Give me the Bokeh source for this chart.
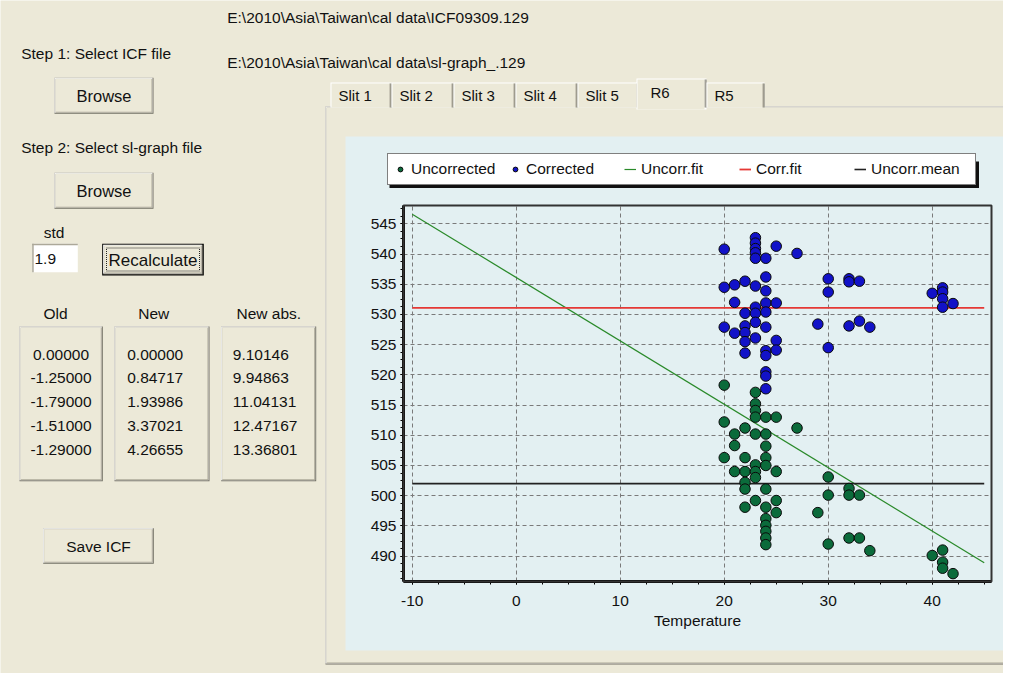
import numpy as np
from bokeh.plotting import figure
from bokeh.models import (Range1d, FixedTicker, Legend, LegendItem, Label,
                          BoxAnnotation, ColumnDataSource, LinearAxis, Grid)
from bokeh.embed import file_html
from bokeh.resources import INLINE

# ---------------- data ----------------
unc_temp = [20, 20, 20,
            21, 21, 21,
            22, 22, 22, 22, 22, 22,
            23, 23, 23, 23, 23, 23, 23, 23, 23,
            24, 24, 24, 24, 24, 24, 24, 24, 24, 24, 24, 24,
            25, 25, 25, 25,
            27, 29,
            30, 30, 30,
            32, 32, 32,
            33, 33, 34, 40,
            41, 41, 41, 42]
unc_r6 = [518.3, 512.2, 506.3,
          510.2, 508.3, 504.0,
          511.2, 506.3, 504.0, 502.2, 501.1, 498.1,
          517.1, 515.2, 514.1, 513.0, 510.2, 505.1, 504.0, 503.0, 499.2,
          513.0, 510.2, 508.2, 506.3, 505.0, 501.1, 498.1, 496.2, 495.1, 494.1, 493.0, 491.9,
          513.0, 504.0, 499.2, 497.2,
          511.2, 497.2,
          503.1, 500.1, 492.0,
          501.2, 500.1, 493.0,
          500.1, 493.0, 490.9, 490.1,
          491.0, 489.0, 488.0, 487.1]

cor_temp = [20, 20, 20,
            21, 21, 21,
            22, 22, 22, 22, 22, 22,
            23, 23, 23, 23, 23, 23, 23, 23, 23, 23,
            24, 24, 24, 24, 24, 24, 24, 24, 24, 24, 24,
            25, 25, 25, 25,
            27, 29,
            30, 30, 30,
            32, 32, 32,
            33, 33, 34, 40,
            41, 41, 41, 41, 42]
cor_r6 = [540.8, 534.5, 527.9,
          534.9, 532.0, 526.9,
          535.5, 530.2, 528.1, 527.0, 525.5, 523.6,
          542.7, 541.8, 540.9, 540.2, 539.3, 534.7, 531.2, 530.2, 528.7, 526.1,
          539.3, 536.2, 533.9, 531.9, 530.4, 527.9, 524.0, 523.2, 520.5, 519.8, 517.7,
          541.3, 531.9, 525.7, 524.1,
          540.1, 528.4,
          535.9, 533.7, 524.5,
          535.9, 535.4, 528.1,
          535.5, 528.9, 527.9, 533.5,
          534.4, 533.7, 532.6, 531.2, 531.8]

fit_x = [-10, 45]
uncorr_fit_y = [546.6, 488.9]
corr_fit_y = [531.1, 531.1]
uncorr_mean_y = [502.0, 502.0]

x_ticks = [-10, 0, 10, 20, 30, 40]
y_ticks = [490, 495, 500, 505, 510, 515, 520, 525, 530, 535, 540, 545]

tab_names = ["Slit 1", "Slit 2", "Slit 3", "Slit 4", "Slit 5", "R6", "R5"]
old_vals = [0.0, -1.25, -1.79, -1.51, -1.29]
new_vals = [0.0, 0.84717, 1.93986, 3.37021, 4.26655]
new_abs_vals = [9.10146, 9.94863, 11.04131, 12.47167, 13.36801]
icf_path = r"E:\2010\Asia\Taiwan\cal data\ICF09309.129"
sl_path = r"E:\2010\Asia\Taiwan\cal data\sl-graph_.129"
std_value = "1.9"

# ---------------- layout / styles ----------------
W, H = 1003, 673
PX_L, PX_R, PX_T, PX_B = 403, 991, 205, 581       # chart area in page pixels
X_LO, X_HI = -10.84, 45.7
Y_LO, Y_HI = 485.8, 548.03
kx = (X_HI - X_LO) / (PX_R - PX_L)
ky = (Y_HI - Y_LO) / (PX_B - PX_T)

FONT = "Liberation Sans"
FS = "15.5px"
BEIGE = "#ECE9D8"
LIGHT = "#E3F0F2"
DARK = "#716F64"
MID = "#ACA899"
GREEN = "#0B6B3B"
BLUE = "#1212C8"

p = figure(width=W, height=H, output_backend="svg", toolbar_location=None,
           x_range=Range1d(X_LO - PX_L * kx, X_HI + (W - PX_R) * kx),
           y_range=Range1d(Y_LO - (H - PX_B) * ky, Y_HI + PX_T * ky),
           x_axis_location=None, y_axis_location=None, min_border=0,
           background_fill_color=BEIGE, border_fill_color=BEIGE,
           outline_line_color=None)
p.xgrid.visible = False
p.ygrid.visible = False
# page-pixel ranges for the window decoration
p.extra_x_ranges = {"px": Range1d(0, W)}
p.extra_y_ranges = {"py": Range1d(H, 0)}


def box(l, t, r, b, fill=None, line=None, lw=1, dash="solid"):
    p.add_layout(BoxAnnotation(left=l, right=r, top=t, bottom=b,
                               x_range_name="px", y_range_name="py",
                               fill_color=fill, fill_alpha=1 if fill else 0,
                               line_color=line, line_alpha=1 if line else 0,
                               line_width=lw, line_dash=dash, level="image"))


def raised(l, t, r, b, fill=BEIGE):
    box(l, t, r, b, DARK)
    box(l, t, r - 1, b - 1, "#FFFFFF")
    box(l + 1, t + 1, r - 1, b - 1, MID)
    box(l + 1, t + 1, r - 2, b - 2, fill)


def txt(x, y, s, align="left", size=FS):
    p.add_layout(Label(x=x, y=y, text=s, x_range_name="px", y_range_name="py",
                       text_font=FONT, text_font_size=size, text_align=align,
                       text_baseline="middle", text_color="#111111"))


# tab control
raised(325, 106, 1016, 664)
box(345, 136, 1006, 650, LIGHT)
# legend shadow
box(389, 161, 978.5, 187.5, "#111111")

tab_edges = [330, 391, 453, 515, 577, 638, 706, 764]
for i, name in enumerate(tab_names):
    l, r = tab_edges[i], tab_edges[i + 1]
    if name == "R6":
        box(l - 2, 78, r, 109, "#FFFFFF")
        box(l - 1, 79, r - 2, 109, BEIGE)
        box(r - 2, 79, r - 1, 107, MID)
        box(r - 1, 79, r, 107, DARK)
        txt(l + 12, 92, name, size="15px")
    else:
        box(l, 82, r, 107, "#FFFFFF")
        box(l + 1, 83, r, 107, BEIGE)
        box(r - 2, 83, r - 1, 107, MID)
        box(r - 1, 83, r, 107, DARK)
        txt(l + 8, 95, name, size="15px")

# left panel
txt(226.7, 17, icf_path)
txt(226.7, 62, sl_path)
txt(20.7, 53.3, "Step 1: Select ICF file")
raised(54, 77.3, 153, 113.3)
txt(103.5, 95.5, "Browse", align="center", size="16.5px")
txt(20.7, 146.7, "Step 2: Select sl-graph file")
raised(54, 172.3, 153, 208.3)
txt(103.5, 190.5, "Browse", align="center", size="16.5px")
txt(43.3, 231.7, "std")
box(31.7, 243.3, 77.3, 271.7, "#FFFFFF")
box(31.7, 243.3, 77.3, 244.8, MID)
box(31.7, 243.3, 33.2, 271.7, MID)
txt(34, 258.3, std_value)
box(101.7, 243.3, 203.3, 275, "#000000")
raised(102.7, 244.3, 202.3, 274)
box(106, 247.5, 199, 270.5, None, "#222222", 1, "1 1")
txt(152.5, 259.5, "Recalculate", align="center", size="17px")

txt(55, 313.3, "Old", align="center")
txt(153.3, 313.3, "New", align="center")
txt(268.3, 313.3, "New abs.", align="center")
raised(19, 326, 102.3, 480.7)
raised(114, 326, 209, 480.7)
raised(220.7, 326, 315.7, 480.7)
row_y = [354.3, 377.7, 401.7, 425.0, 449.3]
for i, yy in enumerate(row_y):
    txt(60.5, yy, f"{old_vals[i]:.5f}", align="center")
    txt(126.7, yy, f"{new_vals[i]:.5f}")
    txt(232.3, yy, f"{new_abs_vals[i]:.5f}")

raised(42.7, 527.7, 153.3, 563.3)
txt(98, 545.5, "Save ICF", align="center")

# ---------------- chart ----------------
x_minor = list(np.arange(-10, 45.01, 2.5))
y_minor = list(np.arange(486.25, 548.0, 1.25))
xt = FixedTicker(ticks=x_ticks, minor_ticks=x_minor)
yt = FixedTicker(ticks=y_ticks, minor_ticks=y_minor)

# chart frame fill
p.add_layout(BoxAnnotation(left=X_LO, right=X_HI, bottom=Y_LO, top=Y_HI,
                           fill_color=LIGHT, fill_alpha=1, line_alpha=0,
                           level="image"))

grid_ok = True
for dim, tk, b, cb in ((0, xt, (X_LO, X_HI), (Y_LO, Y_HI)),
                       (1, yt, (Y_LO, Y_HI), (X_LO, X_HI))):
    g = Grid(dimension=dim, ticker=tk, bounds=b, grid_line_color="#7a7a7a",
             grid_line_dash="4 3", grid_line_width=1)
    try:
        g.cross_bounds = cb
        p.add_layout(g)
    except Exception:
        grid_ok = False
if not grid_ok:
    p.segment(x0=x_ticks, x1=x_ticks, y0=[Y_LO] * len(x_ticks),
              y1=[Y_HI] * len(x_ticks), line_color="#7a7a7a", line_dash="4 3")
    p.segment(x0=[X_LO] * len(y_ticks), x1=[X_HI] * len(y_ticks), y0=y_ticks,
              y1=y_ticks, line_color="#7a7a7a", line_dash="4 3")

r_fit = p.line(fit_x, uncorr_fit_y, line_color="#2A8A2A", line_width=1.2)
r_cfit = p.line(fit_x, corr_fit_y, line_color="#E53935", line_width=1.8)
r_mean = p.line(fit_x, uncorr_mean_y, line_color="#222222", line_width=1.6)

src_unc = ColumnDataSource(dict(x=unc_temp, y=unc_r6))
src_cor = ColumnDataSource(dict(x=cor_temp, y=cor_r6))
r_unc = p.scatter("x", "y", source=src_unc, size=10.5, fill_color=GREEN,
                  line_color="#0a0a0a", line_width=1)
r_cor = p.scatter("x", "y", source=src_cor, size=10.5, fill_color=BLUE,
                  line_color="#0a0a0a", line_width=1)

# frame border (top/right visible; left/bottom covered by axes)
p.add_layout(BoxAnnotation(left=X_LO, right=X_HI, bottom=Y_LO, top=Y_HI,
                           fill_alpha=0, line_color="#333333", line_width=2,
                           line_alpha=1, level="guide"))

xaxis = LinearAxis(ticker=xt, fixed_location=Y_LO, bounds=(X_LO, X_HI),
                   axis_label="Temperature")
yaxis = LinearAxis(ticker=yt, fixed_location=X_LO, bounds=(Y_LO, Y_HI))
for ax in (xaxis, yaxis):
    ax.axis_line_width = 3
    ax.axis_line_color = "black"
    ax.major_tick_in = 0
    ax.major_tick_out = 3
    ax.minor_tick_in = 0
    ax.minor_tick_out = 3
    ax.major_tick_line_color = "black"
    ax.minor_tick_line_color = "black"
    ax.major_label_text_font = FONT
    ax.major_label_text_font_size = FS
    ax.major_label_text_color = "#111111"
xaxis.major_label_overrides = {t: str(t) for t in x_ticks}
yaxis.major_label_standoff = 4
xaxis.major_label_standoff = 11
xaxis.axis_label_text_font = FONT
xaxis.axis_label_text_font_size = FS
xaxis.axis_label_text_font_style = "normal"
xaxis.axis_label_text_color = "#111111"
xaxis.axis_label_standoff = 3
p.add_layout(xaxis, "below")
p.add_layout(yaxis, "left")

legend = Legend(items=[LegendItem(label="Uncorrected", renderers=[r_unc]),
                       LegendItem(label="Corrected", renderers=[r_cor]),
                       LegendItem(label="Uncorr.fit", renderers=[r_fit]),
                       LegendItem(label="Corr.fit", renderers=[r_cfit]),
                       LegendItem(label="Uncorr.mean", renderers=[r_mean])],
                orientation="horizontal", location=(387, H - 185),
                glyph_width=12, glyph_height=14, label_height=14,
                label_width=98, label_standoff=5, spacing=0, padding=6,
                margin=0, border_line_color="black", border_line_width=1,
                background_fill_color="white", background_fill_alpha=1,
                label_text_font=FONT, label_text_font_size=FS,
                label_text_color="#111111")
p.add_layout(legend)

open("out.html", "w").write(file_html(p, INLINE))
